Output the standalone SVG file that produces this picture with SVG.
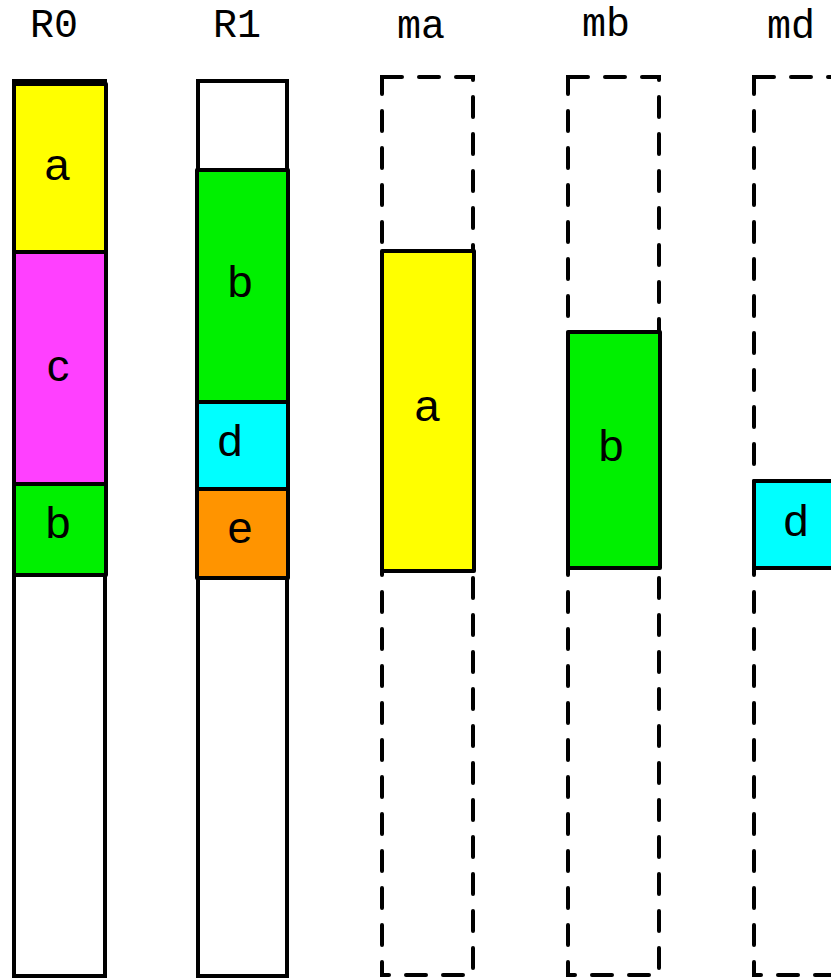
<svg xmlns="http://www.w3.org/2000/svg" width="831" height="978" viewBox="0 0 831 978">
<style>
.lbl{font-family:"Liberation Mono","Courier New",monospace;font-size:40px;fill:#000;text-anchor:middle}
.t{font-family:"Liberation Sans",Arial,sans-serif;font-size:45px;fill:#000;text-anchor:middle}
.col{fill:#fff;stroke:#000;stroke-width:4}
.dash{fill:none;stroke:#000;stroke-width:4;stroke-dasharray:20 17;stroke-linecap:round}
.box{stroke:#000;stroke-width:4;stroke-linejoin:round}
</style>
<rect width="831" height="978" fill="#fff"/>
<g id="R0">
<text class="lbl" x="54" y="37">R0</text>
<rect class="col" x="14" y="81" width="91" height="895"/>
<rect class="box" x="14" y="84" width="92" height="168" fill="#ffff00"/>
<rect class="box" x="14" y="252" width="92" height="232" fill="#ff40ff"/>
<rect class="box" x="14" y="484" width="92" height="91" fill="#00f000"/>
<text class="t" x="57" y="180">a</text>
<text class="t" x="58" y="381">c</text>
<text class="t" x="58" y="538">b</text>
</g>
<g id="R1">
<text class="lbl" x="237" y="37">R1</text>
<rect class="col" x="198" y="81" width="89" height="895"/>
<rect class="box" x="197" y="170" width="91" height="232" fill="#00f000"/>
<rect class="box" x="197" y="402" width="91" height="87" fill="#00ffff"/>
<rect class="box" x="197" y="489" width="91" height="89" fill="#ff9400"/>
<text class="t" x="240" y="297">b</text>
<text class="t" x="230" y="456">d</text>
<text class="t" x="240" y="543">e</text>
</g>
<g id="ma">
<text class="lbl" x="421" y="38">ma</text>
<rect class="dash" x="382" y="77" width="91" height="898"/>
<rect class="box" x="382" y="251" width="92" height="320" fill="#ffff00"/>
<text class="t" x="427" y="421">a</text>
</g>
<g id="mb">
<text class="lbl" x="606" y="36">mb</text>
<rect class="dash" x="568" y="77" width="91" height="898"/>
<rect class="box" x="568" y="332" width="92" height="236" fill="#00f000"/>
<text class="t" x="611" y="461">b</text>
</g>
<g id="md">
<text class="lbl" x="791" y="38">md</text>
<rect class="dash" x="754" y="77" width="91" height="898"/>
<rect class="box" x="754" y="481" width="92" height="87" fill="#00ffff"/>
<text class="t" x="796" y="536">d</text>
</g>
<g id="connectors"></g>
</svg>
